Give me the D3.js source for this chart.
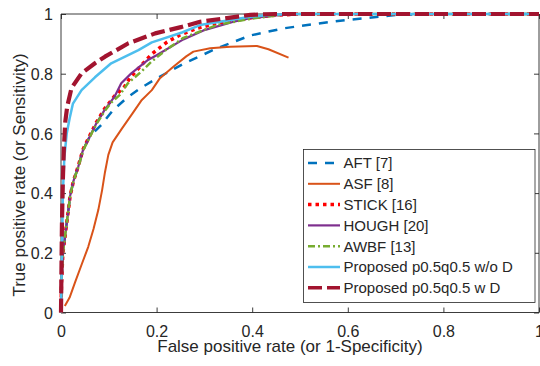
<!DOCTYPE html>
<html>
<head>
<meta charset="utf-8">
<script src="https://cdn.jsdelivr.net/npm/d3@7"></script>
<style>
  html, body { margin: 0; padding: 0; background: #fff; }
  svg { display: block; }
</style>
</head>
<body>
<div id="chart"></div>
<script>
// ROC curves, values as [fpr, tpr]
const seriesNames = [
    "AFT [7]",
    "ASF [8]",
    "STICK [16]",
    "HOUGH [20]",
    "AWBF [13]",
    "Proposed p0.5q0.5 w/o D",
    "Proposed p0.5q0.5 w D"
]

const aft = [[0,0],[0.001,0.1],[0.004,0.2],[0.008,0.25],[0.012,0.3],[0.016,0.35],[0.019,0.39],[0.026,0.44],
    [0.036,0.488],[0.046,0.544],[0.06,0.589],[0.084,0.628],[0.109,0.678],[0.137,0.718],[0.165,0.75],
    [0.2,0.784],[0.256,0.833],[0.326,0.885],[0.396,0.928],[0.466,0.952],[0.528,0.966],[0.598,0.98],
    [0.668,0.991],[0.703,0.997],[0.76,1],[1,1]]

const asf = [[0.008,0.022],[0.018,0.05],[0.029,0.099],[0.043,0.16],[0.057,0.22],[0.068,0.28],[0.078,0.343],
    [0.086,0.41],[0.092,0.47],[0.099,0.528],[0.108,0.57],[0.127,0.615],[0.15,0.668],[0.168,0.71],
    [0.19,0.745],[0.207,0.785],[0.235,0.823],[0.262,0.858],[0.277,0.874],[0.312,0.885],[0.354,0.89],
    [0.41,0.893],[0.434,0.882],[0.476,0.854]]

const stick = [[0,0],[0.001,0.1],[0.004,0.2],[0.008,0.25],[0.012,0.3],[0.016,0.35],[0.019,0.39],[0.026,0.44],
    [0.036,0.49],[0.046,0.546],[0.06,0.592],[0.074,0.637],[0.091,0.682],[0.112,0.725],[0.133,0.757],
    [0.144,0.785],[0.165,0.823],[0.19,0.866],[0.221,0.905],[0.249,0.93],[0.284,0.952],[0.33,0.97],
    [0.4,0.988],[0.45,0.996],[0.5,1],[1,1]]

const hough = [[0,0],[0.001,0.1],[0.004,0.2],[0.008,0.25],[0.012,0.3],[0.016,0.35],[0.019,0.39],[0.026,0.44],
    [0.036,0.488],[0.046,0.544],[0.06,0.589],[0.074,0.634],[0.091,0.678],[0.112,0.723],[0.126,0.768],
    [0.147,0.801],[0.182,0.846],[0.2,0.862],[0.256,0.915],[0.298,0.945],[0.361,0.974],[0.396,0.986],
    [0.45,0.995],[0.5,1],[1,1]]

const awbf = [[0,0],[0.001,0.1],[0.004,0.2],[0.008,0.25],[0.012,0.3],[0.016,0.35],[0.019,0.39],[0.026,0.44],
    [0.036,0.486],[0.046,0.542],[0.06,0.587],[0.074,0.631],[0.091,0.674],[0.105,0.703],[0.123,0.729],
    [0.14,0.768],[0.168,0.807],[0.189,0.84],[0.22,0.88],[0.256,0.92],[0.326,0.963],[0.4,0.985],
    [0.46,0.997],[0.5,1],[1,1]]

const propNoD = [[0,0],[0.002,0.2],[0.004,0.4],[0.007,0.52],[0.012,0.6],[0.018,0.65],[0.025,0.7],
    [0.043,0.745],[0.071,0.788],[0.105,0.835],[0.162,0.879],[0.19,0.905],[0.253,0.938],[0.291,0.963],
    [0.396,0.991],[0.45,0.998],[0.5,1],[1,1]]

const propD = [[0,0],[0.002,0.3],[0.004,0.45],[0.006,0.55],[0.009,0.64],[0.013,0.69],[0.022,0.752],
    [0.043,0.801],[0.071,0.835],[0.092,0.857],[0.141,0.902],[0.197,0.935],[0.253,0.957],[0.291,0.974],
    [0.396,0.997],[0.45,1],[1,1]]

const xTicks = [0, 0.2, 0.4, 0.6, 0.8, 1]
const yTicks = [0, 0.2, 0.4, 0.6, 0.8, 1]

const Colors = {
    blue: "#0072BD",
    orange: "#D95319",
    red: "#FF0000",
    purple: "#7E2F8E",
    green: "#77AC30",
    cyan: "#4DBEEE",
    darkRed: "#A2142F",
    axis: "#262626"
}

const styles = [
    { color: Colors.blue, width: 2.5, dash: "9,8" },
    { color: Colors.orange, width: 2, dash: null },
    { color: Colors.red, width: 3.5, dash: "3.5,4" },
    { color: Colors.purple, width: 2.2, dash: null },
    { color: Colors.green, width: 2.5, dash: "7,3,2,3" },
    { color: Colors.cyan, width: 2.5, dash: null },
    { color: Colors.darkRed, width: 4.2, dash: "14,5" }
]

const curves = [aft, asf, stick, hough, awbf, propNoD, propD]

const w = 540, h = 366
const margin = { top: 14, left: 61, bottom: 53.5, right: 1 }
const fontFamily = "'Liberation Sans', Arial, Helvetica, sans-serif"

const x = d3.scaleLinear().domain([0, 1]).range([margin.left, w - margin.right])
const y = d3.scaleLinear().domain([0, 1]).range([h - margin.bottom, margin.top])

const svg = d3.select("#chart").append("svg")
    .attr("width", w)
    .attr("height", h)
    .style("font-family", fontFamily)

const tickLen = 5

// bottom / left axes with labels, ticks pointing inward
const xAxis = d3.axisBottom(x).tickValues(xTicks).tickFormat(d3.format("")).tickSize(-tickLen).tickPadding(9)
const yAxis = d3.axisLeft(y).tickValues(yTicks).tickFormat(d3.format("")).tickSize(-tickLen).tickPadding(8)

const xAxisG = svg.append("g")
    .attr("transform", `translate(0,${ y(0) })`)
    .call(xAxis)
xAxisG.selectAll("text").style("font-size", "16px").attr("fill", Colors.axis).attr("dy", "0.95em")

const yAxisG = svg.append("g")
    .attr("transform", `translate(${ x(0) },0)`)
    .call(yAxis)
yAxisG.selectAll("text").style("font-size", "16px").attr("fill", Colors.axis).attr("dy", "0.36em")

// top / right axes (box on), no labels
const xTop = svg.append("g")
    .attr("transform", `translate(0,${ y(1) })`)
    .call(d3.axisTop(x).tickValues(xTicks).tickFormat("").tickSize(-tickLen))
const yRight = svg.append("g")
    .attr("transform", `translate(${ x(1) },0)`)
    .call(d3.axisRight(y).tickValues(yTicks).tickFormat("").tickSize(-tickLen))

svg.selectAll(".domain").attr("stroke", Colors.axis).attr("stroke-width", 0.9)
svg.selectAll(".tick line").attr("stroke", Colors.axis).attr("stroke-width", 0.9)
// remove the outer tick stubs of the domain path
svg.selectAll(".domain").attr("d", function () {
    return d3.select(this).attr("d").replace(/V-?\d+(\.\d+)?/g, "").replace(/H-?\d+(\.\d+)?V/g, "V")
})
xAxisG.select(".domain").attr("d", `M${ x(0) },0H${ x(1) }`)
xTop.select(".domain").attr("d", `M${ x(0) },0H${ x(1) }`)
yAxisG.select(".domain").attr("d", `M0,${ y(0) }V${ y(1) }`)
yRight.select(".domain").attr("d", `M0,${ y(0) }V${ y(1) }`)

// axis titles
svg.append("text")
    .attr("x", 290)
    .attr("y", 352)
    .attr("text-anchor", "middle")
    .attr("fill", Colors.axis)
    .style("font-size", "17px")
    .text("False positive rate (or 1-Specificity)")

svg.append("text")
    .attr("transform", `translate(25,175) rotate(-90)`)
    .attr("text-anchor", "middle")
    .attr("fill", Colors.axis)
    .style("font-size", "17px")
    .text("True positive rate (or Sensitivity)")

// curves
const line = d3.line()
    .x(d => x(d[0]))
    .y(d => y(d[1]))

svg.append("g")
    .selectAll("path")
    .data(curves)
    .enter()
    .append("path")
    .attr("d", line)
    .attr("fill", "none")
    .attr("stroke", (d, i) => styles[i].color)
    .attr("stroke-width", (d, i) => styles[i].width)
    .attr("stroke-dasharray", (d, i) => styles[i].dash)
    .attr("stroke-linejoin", "round")

// legend
const legendBox = { x: 303.5, y: 149.5, w: 231.5, h: 153 }
const legendRow = 20.8
const legend = svg.append("g").attr("class", "legend")

legend.append("rect")
    .attr("x", legendBox.x)
    .attr("y", legendBox.y)
    .attr("width", legendBox.w)
    .attr("height", legendBox.h)
    .attr("fill", "#fff")
    .attr("stroke", Colors.axis)
    .attr("stroke-width", 0.8)

const items = legend.selectAll("g.item")
    .data(seriesNames)
    .enter()
    .append("g")
    .attr("class", "item")
    .attr("transform", (d, i) => `translate(${ legendBox.x }, ${ legendBox.y + 13.5 + i * legendRow })`)

items.append("line")
    .attr("x1", 4.5)
    .attr("x2", 36.5)
    .attr("y1", 0)
    .attr("y2", 0)
    .attr("stroke", (d, i) => styles[i].color)
    .attr("stroke-width", (d, i) => Math.min(styles[i].width, 3.5))
    .attr("stroke-dasharray", (d, i) => styles[i].dash)

items.append("text")
    .attr("x", 40)
    .attr("y", 0)
    .attr("dy", "0.36em")
    .attr("fill", Colors.axis)
    .style("font-size", "15px")
    .text(d => d)
</script>
</body>
</html>
